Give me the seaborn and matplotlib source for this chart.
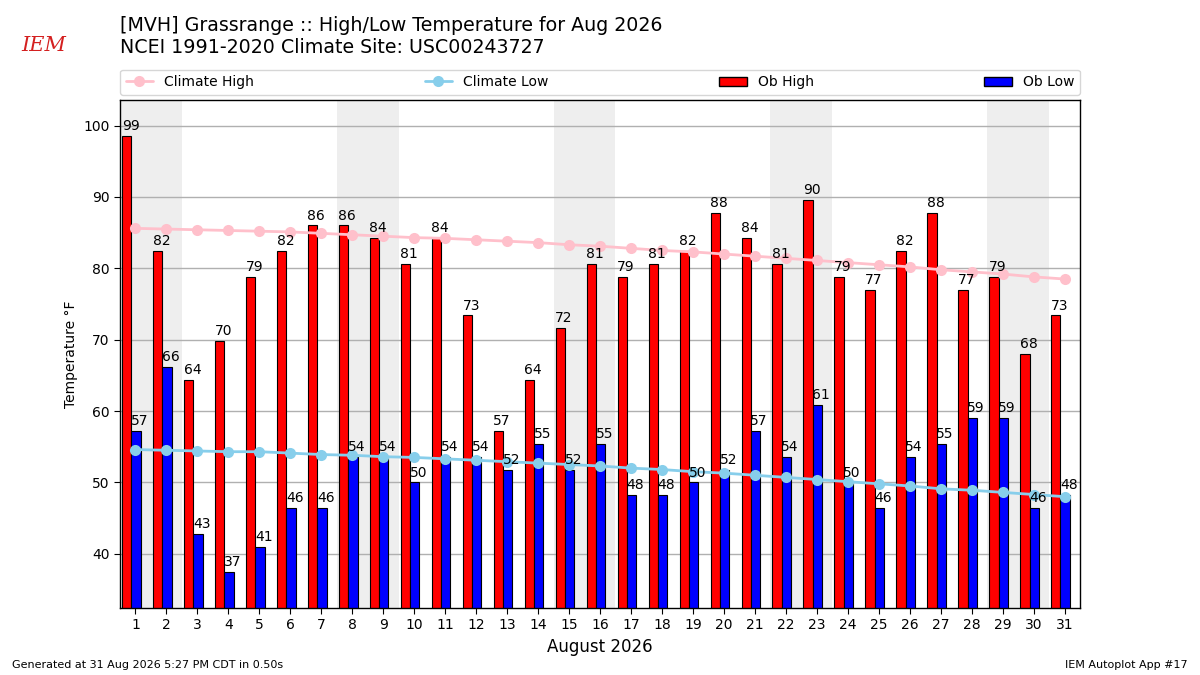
import numpy as np
import pandas as pd
import matplotlib
matplotlib.use("Agg")
import matplotlib.pyplot as plt
from matplotlib.patches import Patch
from matplotlib.lines import Line2D
import seaborn as sns

days = list(range(1, 32))
ob_high = [98.6, 82.4, 64.4, 69.8, 78.8, 82.4, 86.0, 86.0, 84.2, 80.6, 84.2, 73.4, 57.2, 64.4, 71.6, 80.6,
           78.8, 80.6, 82.4, 87.8, 84.2, 80.6, 89.6, 78.8, 77.0, 82.4, 87.8, 77.0, 78.8, 68.0, 73.4]
ob_low = [57.2, 66.2, 42.8, 37.4, 41.0, 46.4, 46.4, 53.6, 53.6, 50.0, 53.6, 53.6, 51.8, 55.4, 51.8, 55.4,
          48.2, 48.2, 50.0, 51.8, 57.2, 53.6, 60.8, 50.0, 46.4, 53.6, 55.4, 59.0, 59.0, 46.4, 48.2]
clim_high = [85.6, 85.5, 85.4, 85.3, 85.2, 85.1, 84.9, 84.7, 84.5, 84.3, 84.2, 84.0, 83.8, 83.6, 83.3, 83.1,
             82.8, 82.5, 82.3, 82.0, 81.7, 81.4, 81.1, 80.8, 80.5, 80.2, 79.8, 79.5, 79.2, 78.8, 78.5]
clim_low = [54.6, 54.5, 54.4, 54.3, 54.3, 54.1, 53.9, 53.8, 53.6, 53.5, 53.3, 53.1, 52.9, 52.7, 52.5, 52.3,
            52.0, 51.8, 51.5, 51.3, 51.0, 50.7, 50.4, 50.1, 49.8, 49.5, 49.1, 48.9, 48.6, 48.3, 48.0]
weekend_starts = [1, 8, 15, 22, 29]

df = pd.DataFrame({"day": days, "ob_high": ob_high, "ob_low": ob_low,
                   "clim_high": clim_high, "clim_low": clim_low})

sns.set_style("white")
plt.rcParams['font.family'] = ['DejaVu Sans']
plt.rcParams.update({"text.color": "black", "axes.labelcolor": "black",
                     "xtick.color": "black", "ytick.color": "black"})

fig = plt.figure(figsize=(12, 6.75), dpi=100)
ax = fig.add_axes([0.1, 0.0993, 0.8, 0.7527])

for ws in weekend_starts:
    ax.axvspan(ws - 0.5, ws + 1.5, color="#eeeeee", zorder=0, lw=0)

ax.set_axisbelow(True)
ax.yaxis.grid(True, color="#b0b0b0", lw=1, zorder=1)

x = df["day"].to_numpy()
ax.bar(x - 0.28, df["ob_high"], width=0.3, color="red", edgecolor="black", lw=0.8, zorder=2)
ax.bar(x + 0.02, df["ob_low"], width=0.3, color="blue", edgecolor="black", lw=0.8, zorder=2)

for d, v in zip(x, df["ob_high"]):
    ax.text(d - 0.16, v + 0.4, f"{v:.0f}", ha="center", va="bottom", fontsize=10, zorder=5)
for d, v in zip(x, df["ob_low"]):
    ax.text(d + 0.14, v + 0.4, f"{v:.0f}", ha="center", va="bottom", fontsize=10, zorder=5)

sns.lineplot(data=df, x="day", y="clim_high", ax=ax, color="pink", marker="o", markersize=8,
             markeredgewidth=0, lw=2, zorder=4)
sns.lineplot(data=df, x="day", y="clim_low", ax=ax, color="skyblue", marker="o", markersize=8,
             markeredgewidth=0, lw=2, zorder=4)

ax.set_xlim(0.5, 31.5)
ax.set_ylim(min(ob_low) - 5, max(ob_high) + 5)
ax.set_xticks(days)
ax.set_xticklabels([str(d) for d in days], fontsize=10)
ax.set_yticks([40, 50, 60, 70, 80, 90, 100])
ax.tick_params(axis="both", labelsize=10, length=4, left=True, bottom=True, direction="out")
ax.set_xlabel("August 2026", fontsize=12)
ax.set_ylabel("Temperature °F", fontsize=10)
for s in ax.spines.values():
    s.set_color("black")
    s.set_linewidth(1)

handles = [
    Line2D([], [], color="pink", marker="o", markersize=8, lw=2, markeredgewidth=0),
    Line2D([], [], color="skyblue", marker="o", markersize=8, lw=2, markeredgewidth=0),
    Patch(facecolor="red", edgecolor="black"),
    Patch(facecolor="blue", edgecolor="black"),
]
labels = ["Climate High", "Climate Low", "Ob High", "Ob Low"]
ax.legend(handles, labels, loc="lower left", ncol=4, mode="expand",
          bbox_to_anchor=(0.0, 1.01, 1.0, 0.05), borderaxespad=0, fontsize=10, frameon=True)

fig.text(0.1, 0.977, "[MVH] Grassrange :: High/Low Temperature for Aug 2026\nNCEI 1991-2020 Climate Site: USC00243727",
         fontsize=13.7, va="top", ha="left", linespacing=1.2)
fig.text(0.018, 0.932, "IEM", fontsize=15, color="#d42020", family="DejaVu Serif", style="italic",
         ha="left", va="center")
fig.text(0.01, 0.008, "Generated at 31 Aug 2026 5:27 PM CDT in 0.50s", fontsize=8, ha="left", va="bottom")
fig.text(0.99, 0.008, "IEM Autoplot App #17", fontsize=8, ha="right", va="bottom")

fig.savefig("out.png", dpi=100)
